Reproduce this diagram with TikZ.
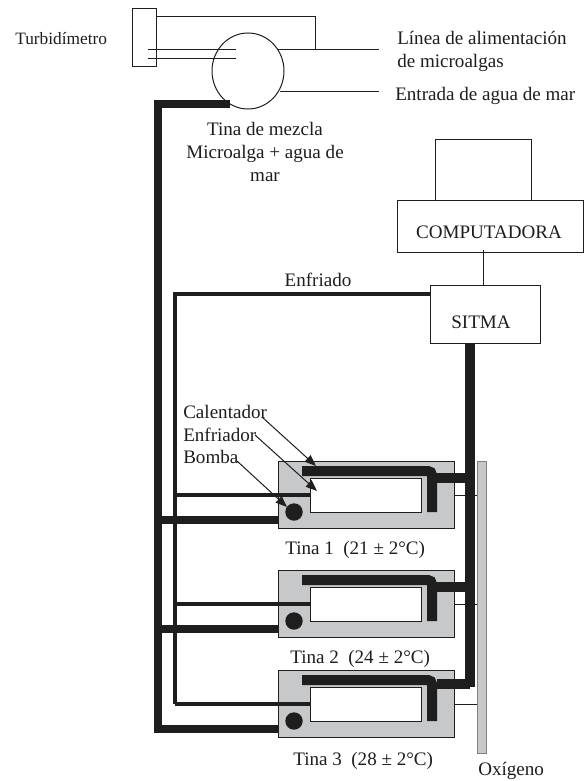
\documentclass[tikz,border=0pt]{standalone}
\usepackage{fontspec}
\setmainfont{Liberation Serif}
\usetikzlibrary{arrows.meta,shapes.geometric}
\definecolor{tankgray}{RGB}{198,200,202}
\definecolor{ink}{RGB}{30,30,30}
\tikzset{
  x=0.75pt,y=-0.75pt,
  thinline/.style={draw=ink,line width=0.75pt},
  medline/.style={draw=ink,line width=2.6pt},
  thickline/.style={draw=ink,line width=6.4pt},
  box/.style={draw=ink,line width=0.75pt,fill=white},
  label/.style={font=\fontsize{14.3}{17}\selectfont,text=ink,inner sep=0pt,align=center},
  pointer/.style={draw=ink,line width=0.75pt,-{Triangle[length=8.5pt,width=6.5pt]}},
}
\newcommand{\tanque}[5]{%
  \path[fill=tankgray,draw=ink,line width=0.75pt] (278,#2) rectangle (454,#2+67);
  \path[fill=white,draw=ink,line width=0.75pt] (310,#2+17) rectangle (421,#2+51);
  \fill[ink] (294,#3) circle[radius=8.7];
  \draw[thickline,line width=7.5pt,rounded corners=3pt] (302,#2+10) -- (432,#2+10) -- (432,#2+51);
  \draw[medline] (175,#2+34) -- (310,#2+34);
  \draw[thinline] (454,#2+34) -- (477,#2+34);
  \draw[thickline] (158,#4) -- (278,#4);
  \draw[thickline,line width=7pt] (437,#5) -- (470,#5);
}
\begin{document}
\begin{tikzpicture}
\useasboundingbox (0,0) rectangle (585,781);
\fill[white] (0,0) rectangle (585,781);
% turbidimeter and mixing tank
\node[draw=ink,line width=0.75pt,minimum width=18pt,minimum height=44pt,inner sep=0pt] (turb) at (144,37.5) {};
\node[draw=ink,line width=0.75pt,ellipse,inner sep=0pt,minimum width=54pt,minimum height=57pt] (tina) at (248,71) {};
\coordinate (alim) at (379,50);
\coordinate (mar) at (379,92);
\draw[thinline] (156,16.5) -- (315.5,16.5) -- (315.5,50);
\draw[thinline] (278,50) -- (alim);
\draw[thinline] (280,92) -- (mar);
\draw[thinline] (148,50) -- (236,50);
\draw[thinline] (148,59) -- (236,59);
\draw[thickline] (230,104) -- (158,104) -- (158,729) -- (278,729);
% computer
\node[box,minimum width=72pt,minimum height=45pt,inner sep=0pt] (mon) at (483,170) {};
\node[box,minimum width=139.5pt,minimum height=39pt,inner sep=0pt] (comp) at (490,226) {};
\node[box,minimum width=83pt,minimum height=44pt,inner sep=0pt] (sitma) at (485.5,314.5) {};
\node[label] at (489,232) {COMPUTADORA};
\node[label] at (481,322) {SITMA};
\draw[thinline] (483,250) -- (483,285);
\draw[medline] (430,294) -- (175,294) -- (175,704);
\draw[thickline,line width=7pt] (470,344) -- (470,687);
% tanks
\tanque{1}{461}{512}{520}{478}
\tanque{2}{570}{621}{629}{587}
\tanque{3}{670}{721}{729}{684}
% oxygen bar
\path[fill=tankgray,draw=gray,line width=0.4pt] (477,461) rectangle (486,753);
% pointers
\draw[pointer] (262,417) -- (316,466);
\draw[pointer] (255,435) -- (317,491);
\draw[pointer] (237,461) -- (287,507);
% labels
\node[label,anchor=west] at (15,39) {\fontsize{13}{15}\selectfont Turbidímetro};
\node[label,align=left,anchor=north west] at (397,31) {Línea de alimentación\\de microalgas};
\node[label,anchor=west] at (395,96) {Entrada de agua de mar};
\node[label] at (265,152) {Tina de mezcla\\Microalga + agua de\\mar};
\node[label] at (318,280) {Enfriado};
\node[label,align=left,anchor=north west] at (183,405) {Calentador\\Enfriador\\Bomba};
\node[label,anchor=west] at (285,550) {Tina 1~~(21 ± 2°C)};
\node[label,anchor=west] at (290,659) {Tina 2~~(24 ± 2°C)};
\node[label,anchor=west] at (293,761) {Tina 3~~(28 ± 2°C)};
\node[label,anchor=west] at (478,771) {Oxígeno};
\end{tikzpicture}
\end{document}
